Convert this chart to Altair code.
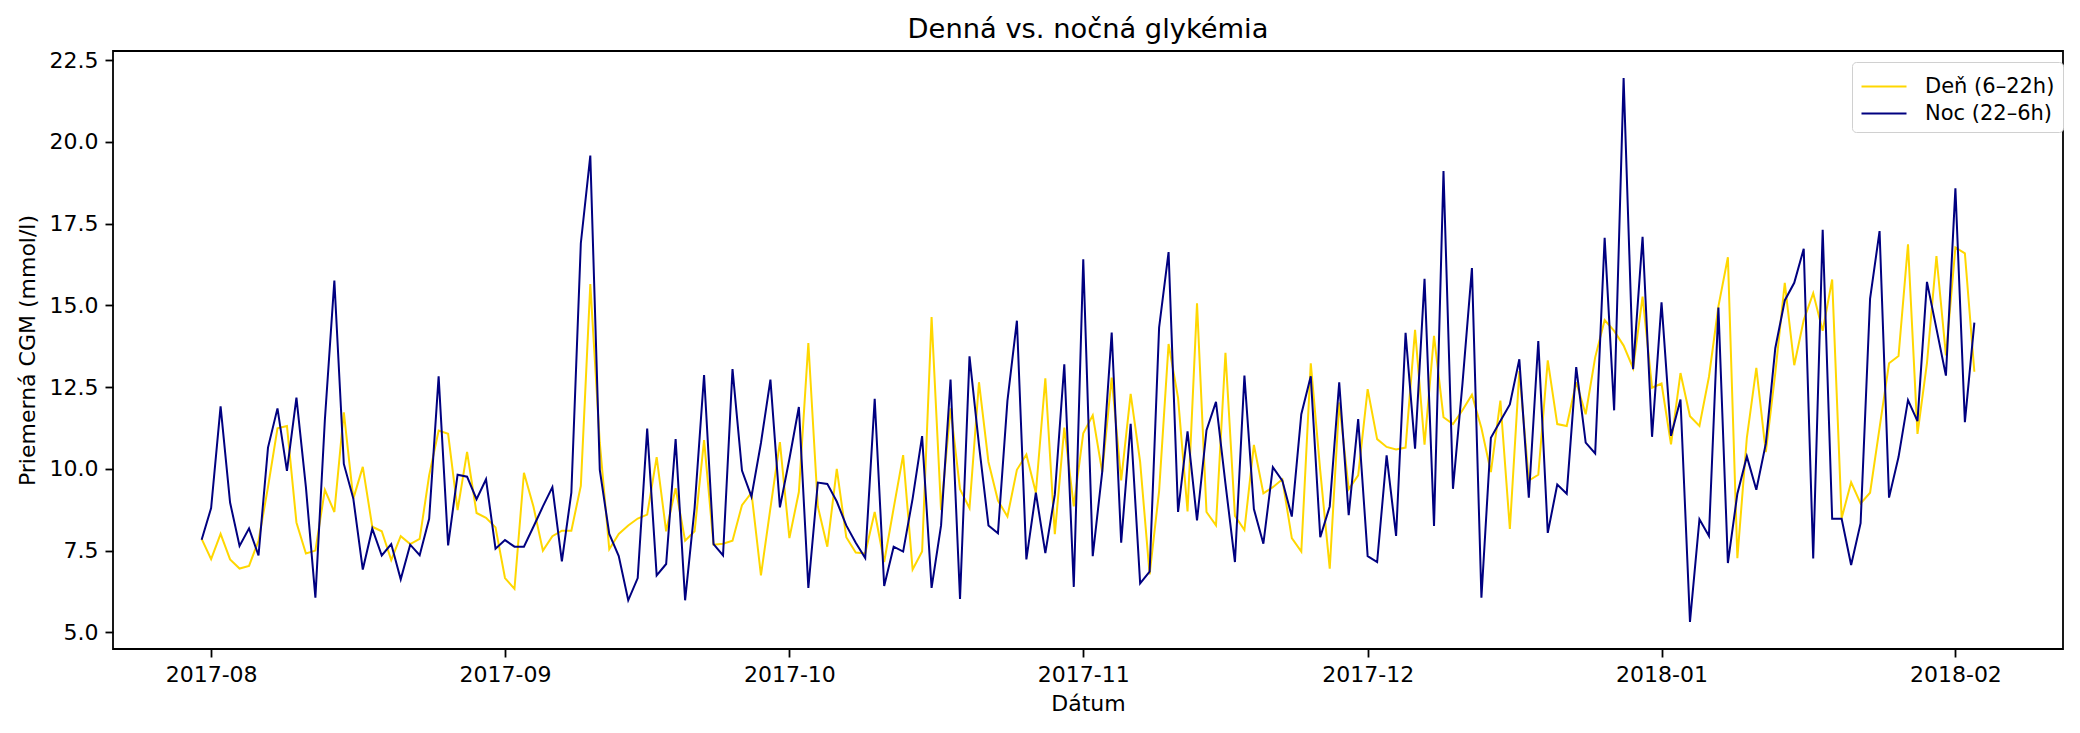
import altair as alt
import pandas as pd

# ---- data ----
START_DATE = "2017-07-31"

DAY_VALUES = [
    7.86, 7.24, 8.01, 7.23, 6.95, 7.03, 7.80, 9.44, 11.24, 11.31, 8.36, 7.41, 7.50, 9.36, 8.68, 11.73, 9.09, 10.06, 8.23, 8.09, 7.21,
    7.94, 7.70, 7.86, 9.80, 11.17, 11.07, 8.74, 10.52, 8.65, 8.50, 8.21, 6.66, 6.33, 9.88, 8.85, 7.50, 7.94, 8.11, 8.11, 9.48, 15.65,
    10.8, 7.54, 8.01, 8.27, 8.48, 8.60, 10.36, 8.09, 9.41, 7.80, 8.09, 10.88, 7.68, 7.71, 7.80, 8.89, 9.27, 6.74, 8.80, 10.82, 7.88,
    9.29, 13.85, 8.85, 7.62, 10.0, 7.91, 7.44, 7.41, 8.68, 7.15, 8.80, 10.42, 6.92, 7.47, 14.64, 8.74, 11.85, 9.38, 8.80, 12.65, 10.21,
    9.03, 8.54, 9.97, 10.44, 9.27, 12.77, 8.00, 11.26, 8.85, 11.09, 11.64, 9.91, 12.79, 9.65, 12.29, 10.21, 6.77, 9.32, 13.82, 12.17, 8.70,
    15.06, 8.68, 8.27, 13.55, 8.56, 8.13, 10.73, 9.25, 9.44, 9.68, 7.88, 7.47, 13.23, 9.94, 6.95, 12.03, 9.38, 9.80, 12.44, 10.91, 10.67,
    10.59, 10.65, 14.25, 10.74, 14.07, 11.58, 11.37, 11.79, 12.27, 11.25, 9.90, 12.09, 8.16, 12.99, 9.64, 9.82, 13.32, 11.37, 11.31, 12.65, 11.67,
    13.41, 14.55, 14.22, 13.77, 13.08, 15.27, 12.48, 12.61, 10.75, 12.93, 11.61, 11.31, 12.81, 14.97, 16.47, 7.27, 10.95, 13.09, 10.51, 12.93, 15.69,
    13.17, 14.55, 15.37, 14.22, 15.79, 8.49, 9.59, 8.94, 9.27, 11.25, 13.23, 13.45, 16.87, 11.07, 13.23, 16.51, 13.47, 16.77, 16.59, 12.97,
]

NIGHT_VALUES = [
    7.83, 8.80, 11.91, 8.97, 7.64, 8.18, 7.35, 10.65, 11.85, 9.94, 12.18, 9.44, 6.06, 11.5, 15.76, 10.15, 9.09, 6.92, 8.17, 7.35, 7.70,
    6.62, 7.68, 7.36, 8.47, 12.83, 7.66, 9.82, 9.76, 9.07, 9.68, 7.56, 7.82, 7.62, 7.62, 8.23, 8.85, 9.44, 7.17, 9.27, 16.90, 19.58,
    9.97, 8.01, 7.33, 5.98, 6.66, 11.23, 6.74, 7.09, 10.91, 5.98, 8.8, 12.87, 7.70, 7.35, 13.05, 9.95, 9.15, 10.79, 12.73, 8.82, 10.3,
    11.89, 6.36, 9.58, 9.54, 9.00, 8.27, 7.74, 7.27, 12.14, 6.42, 7.62, 7.47, 9.09, 11.00, 6.36, 8.27, 12.73, 6.02, 13.44, 10.73, 8.27,
    8.03, 12.08, 14.53, 7.23, 9.27, 7.42, 9.21, 13.20, 6.39, 16.41, 7.33, 9.91, 14.17, 7.74, 11.38, 6.50, 6.86, 14.32, 16.63, 8.68, 11.15,
    8.42, 11.18, 12.05, 9.55, 7.15, 12.85, 8.77, 7.71, 10.05, 9.64, 8.54, 11.67, 12.83, 7.91, 8.85, 12.65, 8.58, 11.52, 7.33, 7.15, 10.41,
    7.95, 14.16, 10.62, 15.81, 8.25, 19.11, 9.39, 12.6, 16.14, 6.06, 10.95, 11.46, 11.97, 13.35, 9.12, 13.91, 8.04, 9.52, 9.24, 13.11, 10.80,
    10.47, 17.07, 11.79, 21.95, 13.05, 17.10, 10.98, 15.09, 11.01, 12.12, 5.32, 8.46, 7.95, 14.93, 7.12, 9.24, 10.38, 9.36, 10.77, 13.69, 15.15,
    15.69, 16.73, 7.26, 17.31, 8.47, 8.47, 7.06, 8.34, 15.21, 17.27, 9.12, 10.36, 12.10, 11.46, 15.72, 14.29, 12.85, 18.58, 11.43, 14.47,
]

SERIES_NAMES = ["Deň (6–22h)", "Noc (22–6h)"]
SERIES_COLORS = ["#FFD700", "#000080"]

X_TICK_MONTHS = [(2017, 8), (2017, 9), (2017, 10), (2017, 11), (2017, 12), (2018, 1), (2018, 2)]
Y_TICKS = [5.0, 7.5, 10.0, 12.5, 15.0, 17.5, 20.0, 22.5]

# ---- table ----
dates = pd.date_range(START_DATE, periods=len(DAY_VALUES), freq="D")
df = pd.concat([
    pd.DataFrame({"date": dates, "value": DAY_VALUES, "series": SERIES_NAMES[0]}),
    pd.DataFrame({"date": dates, "value": NIGHT_VALUES, "series": SERIES_NAMES[1]}),
], ignore_index=True)
df["date"] = df["date"].dt.strftime("%Y-%m-%dT%H:%M:%S")

FONT = "DejaVu Sans"

x_enc = alt.X(
    "date:T",
    scale=alt.Scale(domain=[
        alt.DateTime(year=2017, month=7, date=21, hours=15, minutes=36),
        alt.DateTime(year=2018, month=2, date=12, hours=8, minutes=24),
    ]),
    axis=alt.Axis(
        values=[alt.DateTime(year=y, month=m, date=1) for y, m in X_TICK_MONTHS],
        format="%Y-%m", title="Dátum", grid=False, domain=False,
        labelFont=FONT, labelFontSize=22, labelColor="black", labelPadding=7,
        tickColor="black", tickSize=8, tickWidth=1.8,
        titleFont=FONT, titleFontSize=22, titleFontWeight="normal", titleColor="black", titlePadding=8,
    ),
)
y_enc = alt.Y(
    "value:Q",
    scale=alt.Scale(domain=[4.49, 22.78], nice=False, zero=False),
    axis=alt.Axis(
        values=Y_TICKS, format=".1f", title="Priemerná CGM (mmol/l)", grid=False, domain=False,
        labelFont=FONT, labelFontSize=22, labelColor="black", labelPadding=7,
        tickColor="black", tickSize=8, tickWidth=1.8,
        titleFont=FONT, titleFontSize=22, titleFontWeight="normal", titleColor="black", titlePadding=10,
    ),
)
color_enc = alt.Color(
    "series:N",
    scale=alt.Scale(domain=SERIES_NAMES, range=SERIES_COLORS),
    legend=alt.Legend(
        title=None, orient="none", legendX=1739, legendY=11,
        symbolType="M-1,0L2,0", symbolSize=900, symbolStrokeWidth=2.2,
        symbolFillColor="transparent",
        labelFont=FONT, labelFontSize=21, labelColor="black", labelOffset=32,
        padding=8, rowPadding=0, strokeColor="#d0d0d0", fillColor="white", cornerRadius=4,
    ),
)

base = alt.Chart(df)
day = base.transform_filter(alt.datum.series == SERIES_NAMES[0]).mark_line(strokeWidth=2.0).encode(
    x=x_enc, y=y_enc, color=color_enc)
night = base.transform_filter(alt.datum.series == SERIES_NAMES[1]).mark_line(strokeWidth=2.0).encode(
    x=x_enc, y=y_enc, color=color_enc)

chart = alt.layer(day, night).properties(
    width=1950, height=598,
    title=alt.TitleParams("Denná vs. nočná glykémia", font=FONT, fontSize=27.3,
                          fontWeight="normal", color="black", offset=6),
    autosize=alt.AutoSizeParams(type="none"),
    padding={"left": 105, "top": 43, "right": 9, "bottom": 70},
).configure(
    background="white",
    view=alt.ViewConfig(stroke="black", strokeWidth=1.8),
)

chart.save("out.html", embed_options={"renderer": "svg", "actions": False})
